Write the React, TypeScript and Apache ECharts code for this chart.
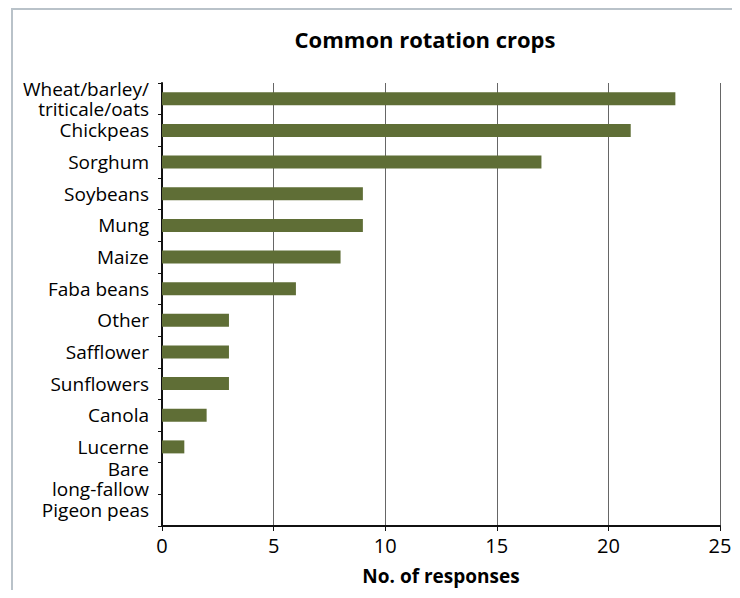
import React, { useEffect, useRef } from "react";
import * as echarts from "echarts";

const categories: string[] = [
  "Wheat/barley/\ntriticale/oats",
  "Chickpeas",
  "Sorghum",
  "Soybeans",
  "Mung",
  "Maize",
  "Faba beans",
  "Other",
  "Safflower",
  "Sunflowers",
  "Canola",
  "Lucerne",
  "Bare\nlong-fallow",
  "Pigeon peas",
];
const responses: number[] = [23, 21, 17, 9, 9, 8, 6, 3, 3, 3, 2, 1, 0, 0];
const titleText = "Common rotation crops";
const xAxisTitle = "No. of responses";

const FONT = "'Open Sans', 'Noto Sans', sans-serif";

export default function App() {
  const ref = useRef<HTMLDivElement>(null);
  useEffect(() => {
    if (!ref.current) return;
    const chart = echarts.init(ref.current, undefined, { renderer: "svg" });
    chart.setOption({
      animation: false,
      backgroundColor: "#ffffff",
      title: {
        text: titleText,
        left: 420,
        top: 23,
        textAlign: "center",
        textStyle: { fontFamily: FONT, fontSize: 22, fontWeight: "bold", color: "#000" },
      },
      graphic: [
        {
          type: "rect",
          shape: { x: 12, y: 9, width: 760, height: 620 },
          style: { fill: "none", stroke: "#b9c2c9", lineWidth: 2 },
          silent: true,
        },
      ],
      grid: { left: 162, right: 20, top: 83, bottom: 72, containLabel: false },
      xAxis: {
        type: "value",
        min: 0,
        max: 25,
        interval: 5,
        name: xAxisTitle,
        nameLocation: "middle",
        nameGap: 40,
        nameTextStyle: { fontFamily: FONT, fontSize: 19, fontWeight: "bold", color: "#000" },
        axisLine: { show: true, lineStyle: { color: "#111", width: 2 } },
        axisTick: { show: true, length: 5, lineStyle: { color: "#111", width: 1 } },
        axisLabel: { fontFamily: FONT, fontSize: 20, color: "#000", margin: 9 },
        splitLine: { show: true, lineStyle: { color: "#666", width: 1 } },
      },
      yAxis: {
        type: "category",
        data: categories,
        inverse: true,
        axisLine: { show: true, lineStyle: { color: "#111", width: 2 } },
        axisTick: { show: true, length: 4, alignWithLabel: false, lineStyle: { color: "#111", width: 1 } },
        axisLabel: {
          fontFamily: FONT,
          fontSize: 19,
          lineHeight: 20,
          color: "#000",
          margin: 13,
          align: "right",
        },
        splitLine: { show: false },
      },
      series: [
        {
          type: "bar",
          data: responses,
          barWidth: 13,
          itemStyle: { color: "#5f6e36" },
        },
      ],
    });
    return () => chart.dispose();
  }, []);
  return <div ref={ref} style={{ width: 740, height: 598, margin: -8 }} />;
}
